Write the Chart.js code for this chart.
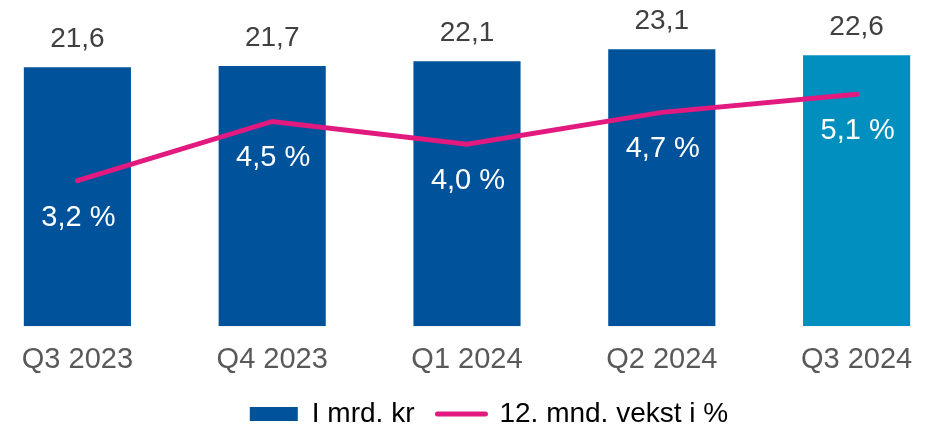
<!DOCTYPE html>
<html>
<head>
<meta charset="utf-8">
<script src="https://cdn.jsdelivr.net/npm/chart.js@4"></script>
<style>
  html,body{margin:0;padding:0;background:#fff;overflow:hidden;}
  #vindu{width:930px;height:430px;position:relative;overflow:hidden;}
  #wrap{position:absolute;left:-20px;top:0;width:974px;height:446px;}
</style>
</head>
<body>
<div id="vindu"><div id="wrap"><canvas id="chart"></canvas></div></div>
<script>
'use strict';
const kvartaler = ['Q3 2023','Q4 2023','Q1 2024','Q2 2024','Q3 2024'];
const mrdKr     = [21.6, 21.7, 22.1, 23.1, 22.6];
const vekst     = [3.2, 4.5, 4.0, 4.7, 5.1];
const barFarger = ['#00539b','#00539b','#00539b','#00539b','#008fbe'];
const serieNavn = ['I mrd. kr', '12. mnd. vekst i %'];

const FONT = '"Liberation Sans", Arial, sans-serif';
const fmt = v => v.toFixed(1).replace('.', ',');

const verdiEtiketter = {
  id: 'verdiEtiketter',
  afterDatasetsDraw(chart) {
    const ctx = chart.ctx;
    ctx.save();
    ctx.textAlign = 'center';
    ctx.textBaseline = 'middle';
    ctx.font = '28px ' + FONT;
    chart.getDatasetMeta(0).data.forEach((el, i) => {
      ctx.fillStyle = '#404040';
      ctx.fillText(fmt(mrdKr[i]), el.x, el.y - 28);
    });
    ctx.font = '29px ' + FONT;
    chart.getDatasetMeta(1).data.forEach((el, i) => {
      ctx.fillStyle = '#ffffff';
      ctx.fillText(fmt(vekst[i]) + ' %', el.x + 1, el.y + 37);
    });
    ctx.restore();
  }
};

// flytt legenden litt mot høyre og opp, som i originalen
const legendeFlytt = {
  id: 'legendeFlytt',
  afterLayout(chart) {
    const lg = chart.legend;
    if (lg) { lg.left += 22; lg.right += 22; lg.top -= 8; lg.bottom -= 8; }
  }
};

new Chart(document.getElementById('chart'), {
  data: {
    labels: kvartaler,
    datasets: [
      {type:'bar', label:serieNavn[0], data:mrdKr, backgroundColor:barFarger,
       borderWidth:0, barPercentage:0.55, categoryPercentage:1, yAxisID:'y', order:2},
      {type:'line', label:serieNavn[1], data:vekst, borderColor:'#e2197f', borderWidth:5,
       pointRadius:0, tension:0, borderCapStyle:'round', yAxisID:'y2', order:1}
    ]
  },
  options: {
    responsive:true, maintainAspectRatio:false, animation:false,
    layout:{padding:{left:0, right:0, top:0, bottom:0}},
    plugins:{
      tooltip:{enabled:false},
      legend:{display:true, position:'bottom',
        labels:{
          font:{size:28, family:FONT}, color:'#595959', usePointStyle:true,
          pointStyleWidth:48, boxHeight:14, padding:23,
          generateLabels: () => [
            {text:serieNavn[0], fillStyle:'#00539b', strokeStyle:'#00539b', lineWidth:0, pointStyle:'rect', datasetIndex:0},
            {text:serieNavn[1], fillStyle:'#e2197f', strokeStyle:'#e2197f', lineWidth:5, lineCap:'round', pointStyle:'line', datasetIndex:1}
          ]
        }}
    },
    scales:{
      x:{offset:true, grid:{display:false}, border:{display:false},
         ticks:{font:{size:29, family:FONT}, color:'#595959', padding:8}},
      y:{display:false, min:0, max:27.2},
      y2:{display:false, min:0, max:7.17, position:'right'}
    }
  },
  plugins:[verdiEtiketter, legendeFlytt]
});
</script>
</body>
</html>
